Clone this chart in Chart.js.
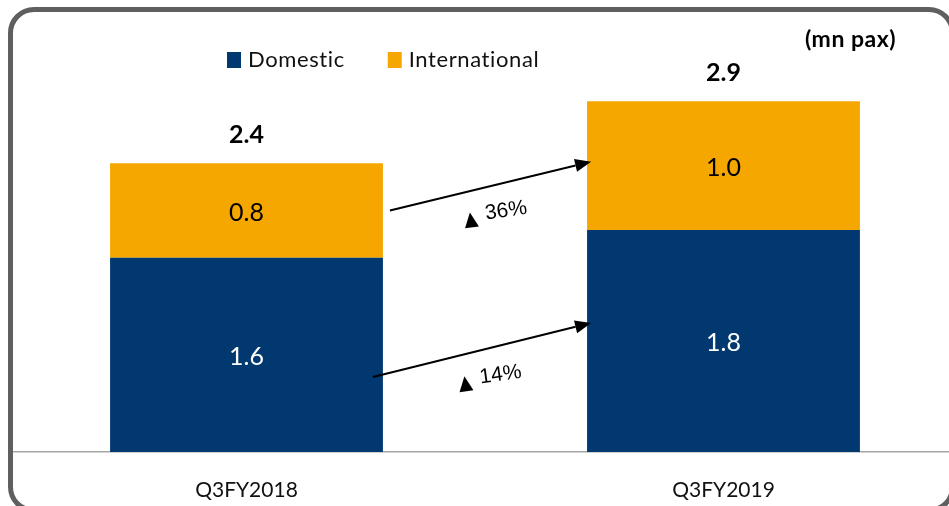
<!DOCTYPE html>
<html>
<head>
<meta charset="utf-8">
<title>Passenger traffic</title>
<script src="https://cdn.jsdelivr.net/npm/chart.js@4.4.1/dist/chart.umd.min.js"></script>
<style>
	html, body { margin: 0; padding: 0; background: #fff; overflow: hidden; width: 949px; height: 506px; }
	#wrap { position: relative; width: 970px; height: 506px; }
	#frame { position: absolute; left: 8px; top: 7px; width: 947px; height: 506px; box-sizing: border-box; border: 5px solid #5f5f5f; border-radius: 26px; pointer-events: none; }
	#edge { position: absolute; left: 0; top: 0; width: 9px; height: 506px; background: #fff; }
	canvas { position: absolute; left: 0; top: 0; }
</style>
</head>
<body>
<div id="wrap">
	<canvas id="chart" width="970" height="506"></canvas>
	<div id="edge"></div>
	<div id="frame"></div>
</div>
<script>
const categories = ['Q3FY2018', 'Q3FY2019'];
const domestic = [1.6, 1.83];
const international = [0.78, 1.06];
const domesticLabels = ['1.6', '1.8'];
const internationalLabels = ['0.8', '1.0'];
const totalLabels = ['2.4', '2.9'];
const growth = ['36%', '14%']; // international, domestic
const unitText = '(mn pax)';

const DOM_COLOR = '#01386f';
const INTL_COLOR = '#f5a700';

function drawArrow(ctx, x1, y1, x2, y2) {
	const a = Math.atan2(y2 - y1, x2 - x1);
	const head = 16;
	const half = 6.5;
	const bx = x2 - head * Math.cos(a);
	const by = y2 - head * Math.sin(a);
	ctx.beginPath();
	ctx.moveTo(x1, y1);
	ctx.lineTo(bx, by);
	ctx.lineWidth = 2;
	ctx.strokeStyle = '#000';
	ctx.stroke();
	ctx.beginPath();
	ctx.moveTo(x2, y2);
	ctx.lineTo(bx + half * Math.sin(a), by - half * Math.cos(a));
	ctx.lineTo(bx - half * Math.sin(a), by + half * Math.cos(a));
	ctx.closePath();
	ctx.fillStyle = '#000';
	ctx.fill();
}

function drawGrowth(ctx, cx, cy, text) {
	ctx.save();
	ctx.translate(cx, cy);
	ctx.rotate(-8 * Math.PI / 180);
	ctx.fillStyle = '#000';
	ctx.beginPath();
	ctx.moveTo(-24, -6);
	ctx.lineTo(-17, 9);
	ctx.lineTo(-31, 9);
	ctx.closePath();
	ctx.fill();
	ctx.font = '21px "Liberation Sans", Arial, sans-serif';
	ctx.textAlign = 'left';
	ctx.textBaseline = 'middle';
	ctx.fillText(text, -9, -2.5);
	ctx.restore();
}

const overlay = {
	id: 'overlay',
	afterDatasetsDraw(chart) {
		const ctx = chart.ctx;
		const dom = chart.getDatasetMeta(0).data;
		const intl = chart.getDatasetMeta(1).data;
		ctx.save();
		ctx.textAlign = 'center';
		ctx.textBaseline = 'middle';

		// segment values
		ctx.font = '25px Lato, sans-serif';
		dom.forEach((bar, i) => {
			ctx.fillStyle = '#fff';
			ctx.fillText(domesticLabels[i], bar.x, (bar.y + bar.base) / 2 + 2);
		});
		intl.forEach((bar, i) => {
			ctx.fillStyle = '#000';
			ctx.fillText(internationalLabels[i], bar.x, (bar.y + bar.base) / 2 + 2);
		});

		// totals
		ctx.font = 'bold 25px Lato, sans-serif';
		intl.forEach((bar, i) => {
			ctx.fillStyle = '#000';
			ctx.fillText(totalLabels[i], bar.x, bar.y - 28);
		});

		// unit
		ctx.font = 'bold 23px Lato, sans-serif';
		ctx.letterSpacing = '0.5px';
		ctx.textAlign = 'right';
		ctx.fillText(unitText, 896, 40);

		// legend
		ctx.font = '22px Lato, sans-serif';
		ctx.letterSpacing = '0.6px';
		ctx.textAlign = 'left';
		let lx = 227;
		chart.data.datasets.forEach((ds) => {
			ctx.fillStyle = ds.backgroundColor;
			ctx.fillRect(lx, 52, 14, 16);
			ctx.fillStyle = '#111';
			ctx.fillText(ds.label, lx + 21, 60);
			lx += 21 + ctx.measureText(ds.label).width + 43;
		});
		ctx.letterSpacing = '0px';

		// growth arrows
		const r0 = dom[0].x + dom[0].width / 2;
		const l1 = dom[1].x - dom[1].width / 2;
		const midI0 = (intl[0].y + intl[0].base) / 2;
		const midI1 = (intl[1].y + intl[1].base) / 2;
		const midD0 = (dom[0].y + dom[0].base) / 2;
		const midD1 = (dom[1].y + dom[1].base) / 2;

		const top = [r0 + 7, midI0, l1 + 4, midI1 - 4];
		const bottom = [r0 - 10, midD0 + 22, l1 + 4, midD1 - 18];
		drawArrow(ctx, ...top);
		drawArrow(ctx, ...bottom);
		drawGrowth(ctx, (top[0] + top[2]) / 2 + 4, (top[1] + top[3]) / 2 + 29, growth[0]);
		drawGrowth(ctx, (bottom[0] + bottom[2]) / 2 + 7, (bottom[1] + bottom[3]) / 2 + 29, growth[1]);
		ctx.restore();
	},
};

new Chart(document.getElementById('chart'), {
	type: 'bar',
	data: {
		labels: categories,
		datasets: [
			{ label: 'Domestic', data: domestic, backgroundColor: DOM_COLOR, barPercentage: 0.572, categoryPercentage: 1 },
			{ label: 'International', data: international, backgroundColor: INTL_COLOR, barPercentage: 0.572, categoryPercentage: 1 },
		],
	},
	options: {
		responsive: false,
		animation: false,
		layout: { padding: { left: 8, right: 8, top: 88, bottom: 0 } },
		plugins: { legend: { display: false }, tooltip: { enabled: false } },
		scales: {
			x: {
				stacked: true,
				grid: { display: false, drawTicks: false },
				border: { display: true, color: '#a6a6a6', width: 1.5 },
				ticks: { padding: 26, color: '#111', font: { family: 'Lato', size: 21 } },
				afterFit: (scale) => { scale.height = 54; },
			},
			y: { stacked: true, display: false, min: 0, max: 3 },
		},
	},
	plugins: [overlay],
});
</script>
</body>
</html>
